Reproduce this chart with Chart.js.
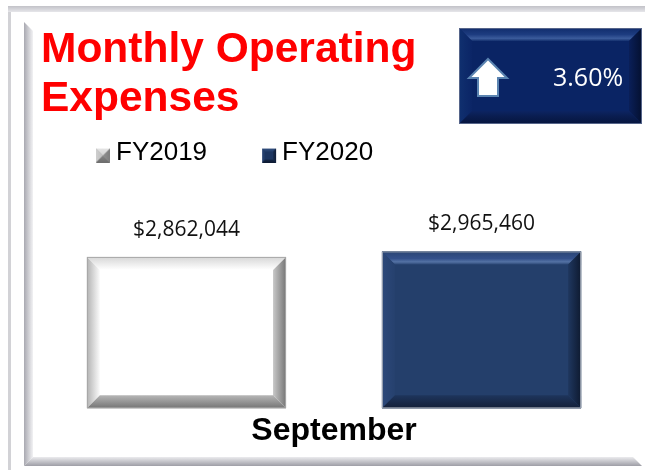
<!DOCTYPE html>
<html>
<head>
<meta charset="utf-8">
<script src="https://cdn.jsdelivr.net/npm/chart.js@4.4.1/dist/chart.umd.min.js"></script>
<style>
  html, body { margin: 0; padding: 0; background: #fff; }
</style>
</head>
<body>
<canvas id="chartExpenses" width="645" height="470"></canvas>
<script>
// Monthly operating expenses - September, FY2019 vs FY2020
const categories = ["September"];
const seriesNames = ["FY2019", "FY2020"];
const fy2019 = [2862044];
const fy2020 = [2965460];
const changeText = "3.60%";

const SANS = "'Liberation Sans', Arial, sans-serif";
const LABEL_FONT = "'Open Sans', sans-serif";

// bevel styles (outer edge -> inner edge)
const barStyles = [
  { face: "#ffffff", line: "#a6a6a6",
    top: [[0, "#d6d6d6"], [1, "#ffffff"]],
    left: [[0, "#b2b2b2"], [1, "#fbfbfb"]],
    right: [[0, "#767676"], [1, "#c8c8c8"]],
    bottom: [[0, "#747474"], [1, "#b6b6b6"]] },
  { face: "#243f6b", line: "#9aa3b0",
    top: [[0, "#2a4573"], [0.55, "#33508a"], [0.8, "#5472a4"], [1, "#2d4977"]],
    left: [[0, "#2c487a"], [1, "#26416e"]],
    right: [[0, "#0e1a30"], [1, "#1f375f"]],
    bottom: [[0, "#131f38"], [1, "#1e355c"]] }
];
const boxStyle = { face: "#0a2464", line: "#56658a",
  top: [[0, "#112c6c"], [0.5, "#1d3c80"], [0.8, "#3b5b9b"], [1, "#14306e"]],
  left: [[0, "#10306f"], [1, "#0b2566"]],
  right: [[0, "#041030"], [1, "#0a1f58"]],
  bottom: [[0, "#06153e"], [0.6, "#0a1d50"], [1, "#0c2462"]] };

function bevel(ctx, x0, y0, x1, y1, d, s) {
  ctx.save();
  ctx.fillStyle = s.face;
  ctx.fillRect(x0, y0, x1 - x0, y1 - y0);
  const side = (pts, gx0, gy0, gx1, gy1, stops) => {
    const g = ctx.createLinearGradient(gx0, gy0, gx1, gy1);
    stops.forEach(st => g.addColorStop(st[0], st[1]));
    ctx.fillStyle = g;
    ctx.beginPath();
    pts.forEach((p, i) => i ? ctx.lineTo(p[0], p[1]) : ctx.moveTo(p[0], p[1]));
    ctx.closePath();
    ctx.fill();
  };
  side([[x0, y0], [x1, y0], [x1 - d, y0 + d], [x0 + d, y0 + d]], 0, y0, 0, y0 + d, s.top);
  side([[x0, y0], [x0 + d, y0 + d], [x0 + d, y1 - d], [x0, y1]], x0, 0, x0 + d, 0, s.left);
  side([[x1, y0], [x1, y1], [x1 - d, y1 - d], [x1 - d, y0 + d]], x1, 0, x1 - d, 0, s.right);
  side([[x0, y1], [x0 + d, y1 - d], [x1 - d, y1 - d], [x1, y1]], 0, y1, 0, y1 - d, s.bottom);
  if (s.line) {
    ctx.strokeStyle = s.line;
    ctx.lineWidth = 1;
    ctx.strokeRect(x0 + 0.5, y0 + 0.5, x1 - x0 - 1, y1 - y0 - 1);
  }
  ctx.restore();
}

// small bevelled legend markers
function makeMarker(style, d) {
  const c = document.createElement("canvas");
  c.width = 19; c.height = 20;
  bevel(c.getContext("2d"), 4, 6, 18, 20, d, style);
  return c;
}
const markers = [
  makeMarker({ face: "#a8a8a8", top: [[0, "#e4e4e4"], [1, "#d4d4d4"]], left: [[0, "#cfcfcf"], [1, "#bdbdbd"]],
               right: [[0, "#7e7e7e"], [1, "#909090"]], bottom: [[0, "#6c6c6c"], [1, "#858585"]] }, 7),
  makeMarker({ face: "#1c3560", top: [[0, "#33507f"], [1, "#223d6a"]], left: [[0, "#2a4575"], [1, "#1f3964"]],
               right: [[0, "#0f1d36"], [1, "#172b4e"]], bottom: [[0, "#0c1830"], [1, "#152848"]] }, 3)
];

const framePlugin = {
  id: "frame",
  beforeDraw(chart) {
    const ctx = chart.ctx;
    ctx.save();
    ctx.fillStyle = "#ffffff";
    ctx.fillRect(0, 0, 645, 470);
    // outer border
    ctx.fillStyle = "#d2d2d6";
    ctx.fillRect(8, 7, 3, 463);
    let g = ctx.createLinearGradient(0, 6, 0, 12);
    g.addColorStop(0, "#c2c2c8"); g.addColorStop(1, "#e6e6ea");
    ctx.fillStyle = g;
    ctx.fillRect(8, 6, 637, 6);
    // inner panel, left and bottom bevel
    g = ctx.createLinearGradient(24, 0, 33, 0);
    g.addColorStop(0, "#a9a9b1"); g.addColorStop(1, "#f2f2f4");
    ctx.fillStyle = g;
    ctx.beginPath();
    ctx.moveTo(24, 22); ctx.lineTo(33, 31); ctx.lineTo(33, 457); ctx.lineTo(24, 466);
    ctx.closePath(); ctx.fill();
    g = ctx.createLinearGradient(0, 457, 0, 466);
    g.addColorStop(0, "#ebebee"); g.addColorStop(1, "#9e9ea6");
    ctx.fillStyle = g;
    ctx.beginPath();
    ctx.moveTo(24, 466); ctx.lineTo(33, 457); ctx.lineTo(633, 457); ctx.lineTo(642, 466);
    ctx.closePath(); ctx.fill();
    ctx.restore();
  }
};

const barPlugin = {
  id: "bevelBars",
  afterDatasetsDraw(chart) {
    const ctx = chart.ctx;
    chart.data.datasets.forEach((ds, i) => {
      chart.getDatasetMeta(i).data.forEach((bar, j) => {
        const x0 = bar.x - bar.width / 2, x1 = bar.x + bar.width / 2;
        bevel(ctx, x0, bar.y, x1, bar.base, 13, barStyles[i]);
        ctx.save();
        ctx.fillStyle = "#111111";
        ctx.font = "21px " + LABEL_FONT;
        ctx.textAlign = "center";
        ctx.textBaseline = "middle";
        ctx.fillText("$" + ds.data[j].toLocaleString("en-US"), bar.x, bar.y - 27);
        ctx.restore();
      });
    });
  }
};

const kpiPlugin = {
  id: "kpiBox",
  afterDraw(chart) {
    const ctx = chart.ctx;
    bevel(ctx, 459, 28, 642, 124, 13, boxStyle);
    ctx.save();
    ctx.beginPath();
    ctx.moveTo(488, 59); ctx.lineTo(507, 78); ctx.lineTo(498, 78); ctx.lineTo(498, 96);
    ctx.lineTo(478, 96); ctx.lineTo(478, 78); ctx.lineTo(469, 78);
    ctx.closePath();
    ctx.fillStyle = "#ffffff";
    ctx.fill();
    ctx.strokeStyle = "#5b84b1";
    ctx.lineWidth = 2;
    ctx.stroke();
    ctx.fillStyle = "#ffffff";
    ctx.font = "25px " + LABEL_FONT;
    ctx.textAlign = "left";
    ctx.textBaseline = "alphabetic";
    ctx.fillText(changeText, 553, 86);
    ctx.restore();
  }
};

new Chart(document.getElementById("chartExpenses"), {
  type: "bar",
  data: {
    labels: categories,
    datasets: [
      { label: seriesNames[0], data: fy2019, backgroundColor: barStyles[0].face },
      { label: seriesNames[1], data: fy2020, backgroundColor: barStyles[1].face }
    ]
  },
  options: {
    responsive: false,
    devicePixelRatio: 1,
    animation: false,
    events: [],
    categoryPercentage: 1.007,
    barPercentage: 0.675,
    layout: { padding: { left: 41, right: 18, top: 0, bottom: 16.3 } },
    plugins: {
      title: {
        display: true,
        text: ["Monthly Operating", "Expenses"],
        align: "start",
        color: "#ff0000",
        font: { family: SANS, size: 42.5, weight: "bold", lineHeight: 1.153 },
        padding: { top: 26, bottom: -43.5 }
      },
      legend: {
        position: "top",
        align: "start",
        labels: {
          color: "#000000",
          font: { family: SANS, size: 26 },
          padding: 59,
          usePointStyle: true,
          pointStyleWidth: 3,
          generateLabels(chart) {
            const items = Chart.defaults.plugins.legend.labels.generateLabels(chart);
            items.forEach((it, i) => { it.pointStyle = markers[i]; });
            return items;
          }
        }
      },
      tooltip: { enabled: false }
    },
    scales: {
      x: {
        grid: { display: false, drawTicks: false },
        border: { display: false },
        ticks: { color: "#000000", padding: 3.5, maxRotation: 0,
                 font: { family: SANS, size: 32, weight: "bold" } }
      },
      y: { display: false, min: 0, max: 4400000 }
    }
  },
  plugins: [framePlugin, barPlugin, kpiPlugin]
});
</script>
</body>
</html>
